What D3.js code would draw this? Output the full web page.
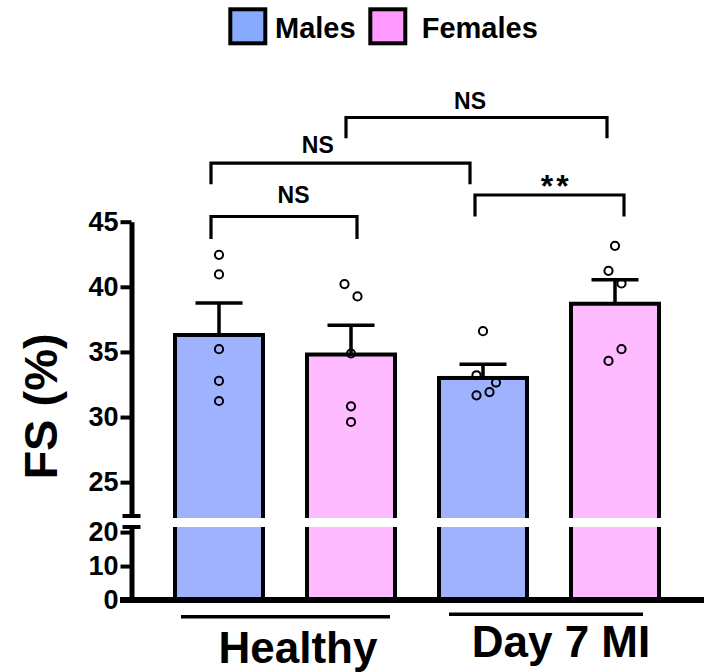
<!DOCTYPE html>
<html><head><meta charset="utf-8">
<script src="https://cdn.jsdelivr.net/npm/d3@7"></script>
<style>
body{margin:0;background:#fff}
svg{display:block}
text{font-family:"Liberation Sans",Arial,sans-serif;font-weight:bold;fill:#000}
</style>
</head><body>
<svg id="chart" width="704" height="672"></svg>
<script>
// ---- data ----
const groups = ["Healthy", "Day 7 MI"];
const sexes = ["Males", "Females"];
// bar order: Healthy-Males, Healthy-Females, Day7-Males, Day7-Females
const barGroup = [0, 0, 1, 1];
const barSex = [0, 1, 0, 1];
const means = [36.3, 34.8, 33.0, 38.7];
const sems = [2.45, 2.25, 1.05, 1.85];
const points = [
  [42.46, 40.95, 35.21, 32.77, 31.23],
  [40.21, 39.26, 34.88, 30.82, 29.62],
  [36.59, 33.21, 32.65, 31.92, 31.67],
  [43.15, 41.23, 40.26, 35.21, 34.31]
];
const jitter = [
  [0, 0, 0, 0, 0],
  [-1, 1, 0, 0, 0],
  [0, -1, 2, 1, -1],
  [0, -1, 1, 1, -1]
];
const upperTicks = [25, 30, 35, 40, 45];
const lowerTicks = [0, 10, 20];
const compFrom = [0, 0, 1, 2];
const compTo = [1, 2, 3, 3];
const compLevel = [45.4, 49.5, 53.0, 47.05];
const compDrop = [1.72, 1.63, 1.6, 1.65];
const compLabel = ["NS", "NS", "NS", "**"];

// ---- style / layout ----
const barFill = ["#9fb2ff", "#ffbbff"];
const legendFill = ["#88aaff", "#ff99ff"];
const bracketNudge = [[-8, 6], [-8, -13], [-5, -8], [-8, 9]];
const labelNudge = [9.5, -22.7, -6.5, 6.7];
const labelGap = [13, 10, 9, 0];

const svg = d3.select("#chart");
const bars = means.map((m, i) => ({i, m, s: sems[i], g: barGroup[i], sex: barSex[i], pts: points[i], jit: jitter[i]}));

const x = d3.scaleBand().domain(d3.range(bars.length)).range([153, 681]).paddingInner(1 / 3).paddingOuter(1 / 6);
const cx = i => x(i) + x.bandwidth() / 2;
const yUp = d3.scaleLinear().domain([22.4, 45]).range([516, 221.7]);
const yLo = d3.scaleLinear().domain([0, 21.5]).range([600, 527]);
const base = yLo(0);

// bars
svg.append("g").selectAll("rect").data(bars).join("rect")
  .attr("x", d => x(d.i)).attr("width", x.bandwidth())
  .attr("y", d => yUp(d.m)).attr("height", d => base - yUp(d.m))
  .attr("fill", d => barFill[d.sex]).attr("stroke", "#000").attr("stroke-width", 4);

// break gap
svg.append("rect").attr("x", 150).attr("width", 530).attr("y", 518).attr("height", 9).attr("fill", "#fff");

// error bars
const eb = svg.append("g").attr("stroke", "#000").attr("stroke-width", 3.5).attr("fill", "none");
bars.forEach(d => {
  eb.append("line").attr("x1", cx(d.i)).attr("x2", cx(d.i)).attr("y1", yUp(d.m)).attr("y2", yUp(d.m + d.s));
  eb.append("line").attr("x1", cx(d.i) - 23.5).attr("x2", cx(d.i) + 23.5).attr("y1", yUp(d.m + d.s)).attr("y2", yUp(d.m + d.s));
});

// points
const pg = svg.append("g");
bars.forEach(d => {
  pg.selectAll(null).data(d.pts.map((v, k) => ({v, j: d.jit[k]}))).join("circle")
    .attr("cx", p => cx(d.i) + p.j * 6.5).attr("cy", p => yUp(p.v)).attr("r", 4.1)
    .attr("fill", "none").attr("stroke", "#000").attr("stroke-width", 2);
});

// axes
function styleAxis(g) {
  g.select(".domain").attr("stroke-width", 5);
  g.selectAll(".tick line").attr("stroke-width", 4);
  g.selectAll(".tick text").attr("font-size", 27).attr("font-family", "Liberation Sans, Arial, sans-serif").attr("font-weight", "bold");
}
const axU = svg.append("g").attr("transform", "translate(131.5,0)")
  .call(d3.axisLeft(yUp).tickValues(upperTicks).tickSize(11).tickSizeOuter(0).tickPadding(2));
styleAxis(axU);
const axL = svg.append("g").attr("transform", "translate(131.5,0)")
  .call(d3.axisLeft(yLo).tickValues(lowerTicks).tickSize(11).tickSizeOuter(0).tickPadding(2));
styleAxis(axL);
// break caps
[yUp.range()[0], yLo.range()[1]].forEach(yy => {
  svg.append("line").attr("x1", 122.5).attr("x2", 140.5).attr("y1", yy).attr("y2", yy)
    .attr("stroke", "#000").attr("stroke-width", 4);
});
// baseline
svg.append("line").attr("x1", 120).attr("x2", 704).attr("y1", base).attr("y2", base)
  .attr("stroke", "#000").attr("stroke-width", 6);

// y title
svg.append("text").attr("transform", "translate(57,406.5) rotate(-90)")
  .attr("text-anchor", "middle").attr("font-size", 47).text("FS (%)");

// group labels and underlines
const groupLabelNudge = [[13, 663], [12, 656.7]];
const groupLine = [[-104, 105, 616.7], [-100, 94, 614.3]];
groups.forEach((g, gi) => {
  const idx = bars.filter(b => b.g === gi).map(b => b.i);
  const c = (cx(idx[0]) + cx(idx[idx.length - 1])) / 2;
  svg.append("line").attr("x1", c + groupLine[gi][0]).attr("x2", c + groupLine[gi][1])
    .attr("y1", groupLine[gi][2]).attr("y2", groupLine[gi][2]).attr("stroke", "#000").attr("stroke-width", 3.5);
  svg.append("text").attr("x", c + groupLabelNudge[gi][0]).attr("y", groupLabelNudge[gi][1])
    .attr("text-anchor", "middle").attr("font-size", 44).text(g);
});

// significance brackets
const br = svg.append("g");
compFrom.forEach((f, k) => {
  const x1 = cx(f) + bracketNudge[k][0], x2 = cx(compTo[k]) + bracketNudge[k][1];
  const yt = yUp(compLevel[k]), yb = yUp(compLevel[k] - compDrop[k]);
  br.append("path").attr("d", `M${x1},${yb}V${yt}H${x2}V${yb}`)
    .attr("fill", "none").attr("stroke", "#000").attr("stroke-width", 3.2);
  const t = br.append("text").attr("x", (x1 + x2) / 2 + labelNudge[k]).attr("text-anchor", "middle");
  if (compLabel[k] === "**") {
    t.attr("y", yt + 1.5).attr("font-size", 32).attr("letter-spacing", 3).text(compLabel[k]);
  } else {
    t.attr("y", yt - labelGap[k]).attr("font-size", 23).text(compLabel[k]);
  }
});

// legend
const legX = [230.3, 370.3];
const legTextX = [275, 421.7];
sexes.forEach((s, si) => {
  svg.append("rect").attr("x", legX[si]).attr("y", 9.3).attr("width", 35).attr("height", 34)
    .attr("fill", legendFill[si]).attr("stroke", "#000").attr("stroke-width", 4);
  svg.append("text").attr("x", legTextX[si]).attr("y", 38.3).attr("font-size", 29).text(s);
});
</script>
</body></html>
